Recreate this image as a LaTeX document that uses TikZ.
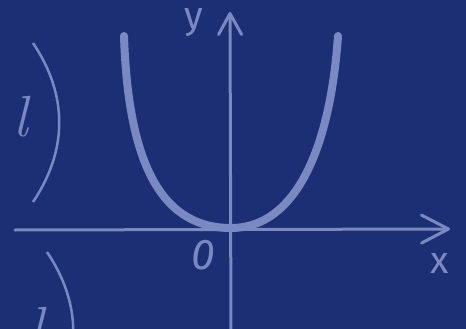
\documentclass[tikz,border=0pt]{standalone}
\usepackage{fontspec}
\newfontfamily\labelfont{Fira Sans}
\definecolor{PlotNavy}{HTML}{1D2F74}
\definecolor{PlotLilac}{HTML}{7A89C2}
\usetikzlibrary{arrows.meta}

\begin{document}
\begin{tikzpicture}[
    x=1pt, y=-1pt,
    axis/.style={draw=PlotLilac, line width=3pt, line cap=round},
    curve/.style={draw=PlotLilac, line width=8pt, line cap=round},
    bracket/.style={draw=PlotLilac, line width=2.5pt},
    lbl/.style={text=PlotLilac, inner sep=0pt, font=\labelfont\fontsize{38}{40}\selectfont},
    ell/.style={text=PlotLilac, inner sep=0pt, font=\rmfamily\itshape\fontsize{58}{60}\selectfont}
  ]
    \clip (0,0) rectangle (466,329);
    \fill[PlotNavy] (0,0) rectangle (466,329);
    % axes
    \coordinate (xstart) at (15,230);
    \coordinate (xend) at (450,229);
    \coordinate (ystart) at (231,340);
    \coordinate (yend) at (230,12);
    \draw[axis, -{Straight Barb[length=27pt, width=28pt, line width=3pt, round]}] (xstart) -- (xend);
    \draw[axis, -{Straight Barb[length=21pt, width=23pt, line width=3pt, round]}] (ystart) -- (yend);
    \node[lbl] (xlabel) at (440,263) {x};
    \node[lbl] (ylabel) at (194,23) {y};
    \node[lbl, font=\labelfont\itshape\fontsize{43}{45}\selectfont] (olabel) at (203,255) {0};
    % the curve
    \coordinate (ltop) at (124,36);
    \coordinate (orig) at (231,228);
    \coordinate (rtop) at (338,36);
    \draw[curve] (ltop) .. controls (128,155) and (157,228) .. (orig)
      .. controls (295,228) and (330,150) .. (rtop);
    % l brackets on the left
    \coordinate (uppertop) at (33,43);
    \coordinate (upperbot) at (33,202);
    \coordinate (lowertop) at (47,252);
    \coordinate (lowerbot) at (47,411);
    \draw[bracket] (uppertop) .. controls (68,95) and (68,150) .. (upperbot);
    \draw[bracket] (lowertop) .. controls (82,304) and (82,359) .. (lowerbot);
    \node[ell] (lupper) at (21,117) {l};
    \node[ell] (llower) at (37,328) {l};
\end{tikzpicture}
\end{document}
